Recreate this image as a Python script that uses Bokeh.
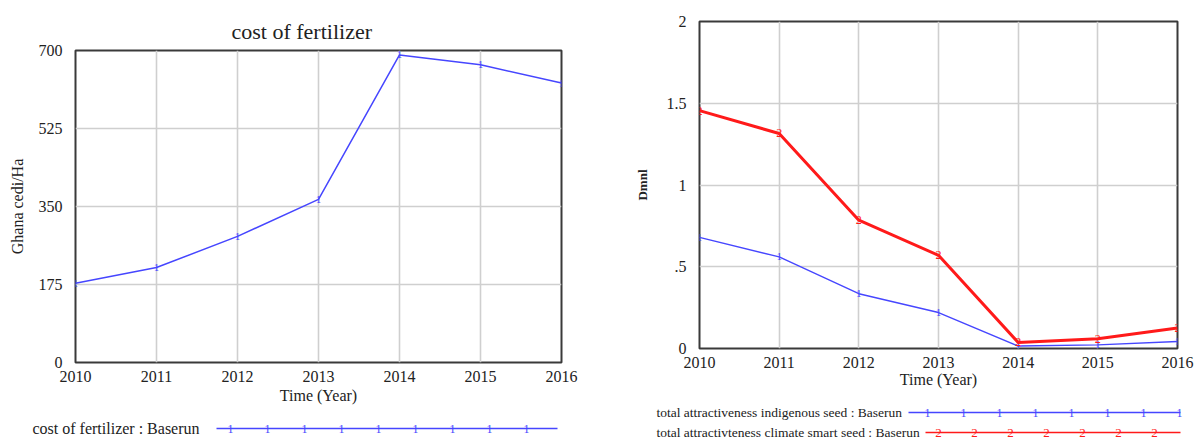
from bokeh.plotting import figure
from bokeh.layouts import row, column
from bokeh.models import Range1d, FixedTicker, CustomJSTickFormatter
from bokeh.core.properties import value
from bokeh.embed import file_html
from bokeh.resources import INLINE

# ---------------- data ----------------
years = [2010, 2011, 2012, 2013, 2014, 2015, 2016]
fertilizer_cost = [178, 213, 283, 366, 690, 668, 627]
indigenous_seed = [0.68, 0.56, 0.335, 0.22, 0.015, 0.022, 0.043]
climate_smart_seed = [1.455, 1.315, 0.785, 0.57, 0.037, 0.06, 0.125]
left_yticks = [0, 175, 350, 525, 700]
right_yticks = [0, 0.5, 1, 1.5, 2]

left_title = "cost of fertilizer"
left_ylabel = "Ghana cedi/Ha"
right_ylabel = "Dmnl"
xlabel = "Time (Year)"
left_legend = "cost of fertilizer : Baserun"
right_legend_1 = "total attractiveness indigenous seed : Baserun"
right_legend_2 = "total attractivteness climate smart seed : Baserun"

SERIF = "Liberation Serif"
BLUE = "#4646ff"
RED = "#ff1a1a"
TXT = "#222222"


def style(p):
    p.frame_align = False
    p.outline_line_color = "#3a3a3a"
    p.outline_line_width = 2
    p.background_fill_color = "white"
    p.border_fill_color = "white"
    for ax in p.axis:
        ax.axis_line_color = None
        ax.major_tick_line_color = None
        ax.minor_tick_line_color = None
        ax.major_tick_out = 0
        ax.major_tick_in = 0
        ax.minor_tick_out = 0
        ax.minor_tick_in = 0
        ax.major_label_text_font = SERIF
        ax.major_label_text_font_size = "16px"
        ax.major_label_text_color = TXT
        ax.axis_label_text_font = SERIF
        ax.axis_label_text_color = TXT
        ax.axis_label_text_font_style = "normal"
    for g in p.grid:
        g.grid_line_color = "#cfcfcf"
        g.grid_line_width = 1.6


def legend_fig(width, height):
    lf = figure(width=width, height=height, x_range=Range1d(0, width),
                y_range=Range1d(0, height), toolbar_location=None,
                output_backend="svg", min_border=0,
                x_axis_location=None, y_axis_location=None)
    lf.frame_align = False
    lf.grid.visible = False
    lf.outline_line_color = None
    lf.background_fill_color = "white"
    lf.border_fill_color = "white"
    return lf


# ---------------- left chart ----------------
p1 = figure(width=620, height=410, x_range=Range1d(2010, 2016),
            y_range=Range1d(0, 700), toolbar_location=None,
            output_backend="svg", min_border_left=75, min_border_right=59,
            min_border_top=50, min_border_bottom=48)
style(p1)
p1.title.text = left_title
p1.title.text_font = SERIF
p1.title.text_font_size = "22px"
p1.title.text_font_style = "normal"
p1.title.text_color = TXT
p1.title.align = "left"
p1.title.offset = 156
p1.title.standoff = 14
p1.xaxis.ticker = FixedTicker(ticks=years)
p1.yaxis.ticker = FixedTicker(ticks=left_yticks)
p1.xaxis.axis_label = xlabel
p1.xaxis.axis_label_text_font_size = "16px"
p1.xaxis.major_label_standoff = 8
p1.xaxis.axis_label_standoff = 2
p1.yaxis.axis_label = left_ylabel
p1.yaxis.axis_label_text_font_size = "16px"
p1.yaxis.major_label_standoff = 13
p1.yaxis.axis_label_standoff = 10
p1.line(years, fertilizer_cost, line_color=BLUE, line_width=1.5)
p1.text(x=years, y=fertilizer_cost, text=["1"] * len(years),
        text_font=value(SERIF), text_font_size="11px", text_color=BLUE,
        text_align="center", text_baseline="middle")

lg1 = legend_fig(620, 31)
lg1.text(x=[32], y=[13], text=[left_legend], text_font=value(SERIF),
         text_font_size="16px", text_color=TXT, text_align="left",
         text_baseline="middle")
lg1.line([216, 557], [13, 13], line_color=BLUE, line_width=1.6)
m1 = [230 + 37 * k for k in range(9)]
lg1.text(x=m1, y=[13] * len(m1), text=["1"] * len(m1), text_font=value(SERIF),
         text_font_size="12px", text_color=BLUE, text_align="center",
         text_baseline="middle")

# ---------------- right chart ----------------
p2 = figure(width=578, height=396, x_range=Range1d(2010, 2016),
            y_range=Range1d(0, 2), toolbar_location=None,
            output_backend="svg", min_border_left=79, min_border_right=21,
            min_border_top=21, min_border_bottom=48)
style(p2)
p2.xaxis.ticker = FixedTicker(ticks=years)
p2.yaxis.ticker = FixedTicker(ticks=right_yticks)
p2.yaxis.formatter = CustomJSTickFormatter(
    code="return tick === 0.5 ? '.5' : String(tick);")
p2.xaxis.axis_label = xlabel
p2.xaxis.axis_label_text_font_size = "16px"
p2.xaxis.major_label_standoff = 8
p2.xaxis.axis_label_standoff = 0
p2.yaxis.axis_label = right_ylabel
p2.yaxis.axis_label_text_font_size = "13px"
p2.yaxis.axis_label_text_font_style = "bold"
p2.yaxis.major_label_standoff = 13
p2.yaxis.axis_label_standoff = 14
p2.line(years, indigenous_seed, line_color=BLUE, line_width=1.4)
p2.text(x=years, y=indigenous_seed, text=["1"] * len(years),
        text_font=value(SERIF), text_font_size="11px", text_color=BLUE,
        text_align="center", text_baseline="middle")
p2.line(years, climate_smart_seed, line_color=RED, line_width=3)
p2.text(x=years, y=climate_smart_seed, text=["2"] * len(years),
        text_font=value(SERIF), text_font_size="12px", text_color=RED,
        text_align="center", text_baseline="middle")

lg2 = legend_fig(578, 45)
lg2.text(x=[36], y=[29], text=[right_legend_1], text_font=value(SERIF),
         text_font_size="13.5px", text_color=TXT, text_align="left",
         text_baseline="middle")
lg2.text(x=[36], y=[9], text=[right_legend_2], text_font=value(SERIF),
         text_font_size="13.5px", text_color=TXT, text_align="left",
         text_baseline="middle")
lg2.line([288, 560], [29, 29], line_color=BLUE, line_width=1.6)
lg2.line([305, 560], [9, 9], line_color=RED, line_width=1.6)
m2a = [307 + 36 * k for k in range(8)]
m2b = [318 + 36 * k for k in range(7)]
lg2.text(x=m2a, y=[29] * len(m2a), text=["1"] * len(m2a), text_font=value(SERIF),
         text_font_size="12px", text_color=BLUE, text_align="center",
         text_baseline="middle")
lg2.text(x=m2b, y=[9] * len(m2b), text=["2"] * len(m2b), text_font=value(SERIF),
         text_font_size="13px", text_color=RED, text_align="center",
         text_baseline="middle")

layout = row(column(p1, lg1), column(p2, lg2))
open("out.html", "w").write(file_html(layout, INLINE))
